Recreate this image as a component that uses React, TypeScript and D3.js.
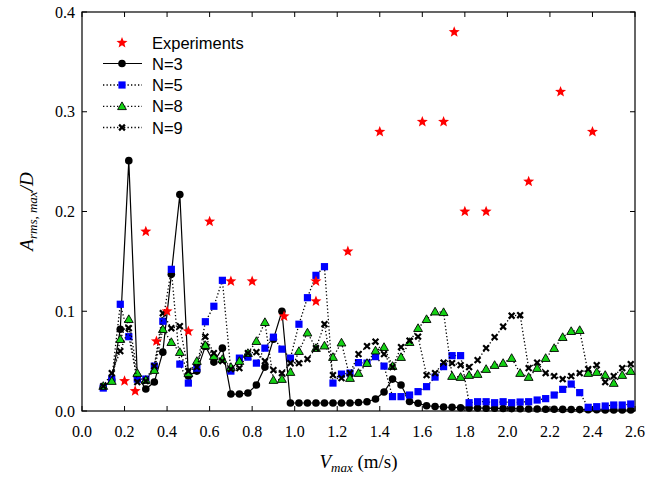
import React from "react";
import * as d3 from "d3";

const V = [0.10,0.14,0.18,0.22,0.26,0.30,0.34,0.38,0.42,0.46,0.50,0.54,0.58,0.62,0.66,0.70,0.74,0.78,0.82,0.86,0.90,0.94,0.98,1.02,1.06,1.10,1.14,1.18,1.22,1.26,1.30,1.34,1.38,1.42,1.46,1.50,1.54,1.58,1.62,1.66,1.70,1.74,1.78,1.82,1.86,1.90,1.94,1.98,2.02,2.06,2.10,2.14,2.18,2.22,2.26,2.30,2.34,2.38,2.42,2.46,2.50,2.54,2.58];

const N3 = [0.024,0.031,0.082,0.251,0.035,0.022,0.029,0.059,0.137,0.217,
  0.035,0.040,0.065,0.049,0.063,0.017,0.017,0.018,0.026,0.044,
  0.072,0.100,0.008,0.008,0.008,0.008,0.008,0.008,0.008,0.008,
  0.0085,0.0093,0.012,0.019,0.032,0.026,0.0095,0.0077,0.0053,0.0045,
  0.004,0.0037,0.0033,0.003,0.003,0.0028,0.0027,0.0025,0.0024,0.0022,
  0.002,0.002,0.0018,0.0017,0.0016,0.0015,0.0014,0.0013,0.0012,0.0011,
  0.001,0.001,0.001];

const N5 = [0.023,0.032,0.107,0.0745,0.032,0.032,0.045,0.090,0.142,0.047,
  0.028,0.043,0.0895,0.105,0.131,0.040,0.053,0.054,0.048,0.063,
  0.074,0.062,0.053,0.087,0.1136,0.136,0.1447,0.028,0.037,0.038,
  0.0485,0.048,0.0545,0.045,0.0144,0.0144,0.016,0.0194,0.0244,0.034,
  0.0445,0.0555,0.0555,0.0083,0.0093,0.0093,0.0083,0.0093,0.0083,0.009,
  0.0093,0.011,0.0124,0.016,0.0217,0.027,0.0184,0.0037,0.0043,0.005,
  0.006,0.006,0.007];

const N8 = [0.025,0.030,0.072,0.092,0.038,0.031,0.041,0.082,0.069,0.059,
  0.038,0.050,0.066,0.055,0.052,0.044,0.050,0.058,0.070,0.089,
  0.031,0.032,0.039,0.060,0.0785,0.063,0.0655,0.054,0.0685,0.033,
  0.038,0.048,0.0605,0.064,0.045,0.054,0.069,0.083,0.092,0.0996,
  0.099,0.035,0.034,0.036,0.037,0.042,0.046,0.048,0.053,0.038,
  0.034,0.043,0.053,0.063,0.074,0.080,0.081,0.038,0.039,0.036,
  0.028,0.036,0.040];

const N9 = [0.025,0.038,0.060,0.083,0.029,0.030,0.045,0.098,0.083,0.085,
  0.040,0.044,0.0745,0.058,0.050,0.042,0.043,0.058,0.059,0.050,
  0.041,0.038,0.048,0.048,0.052,0.063,0.087,0.036,0.033,0.038,
  0.057,0.065,0.0695,0.057,0.044,0.064,0.0705,0.0745,0.036,0.038,
  0.0485,0.048,0.046,0.044,0.051,0.063,0.074,0.0845,0.0955,0.096,
  0.043,0.0485,0.038,0.035,0.032,0.035,0.038,0.042,0.046,0.029,
  0.035,0.043,0.047];

const EXP_V = [0.2,0.25,0.3,0.35,0.4,0.5,0.6,0.7,0.8,0.95,1.1,1.1,1.25,1.4,1.6,1.7,1.75,1.8,1.9,2.1,2.25,2.4];
const EXP_A = [0.03,0.02,0.18,0.07,0.10,0.08,0.19,0.13,0.13,0.095,0.13,0.11,0.16,0.28,0.29,0.29,0.38,0.20,0.20,0.23,0.32,0.28];

const X_TICKS = [0,0.2,0.4,0.6,0.8,1.0,1.2,1.4,1.6,1.8,2.0,2.2,2.4,2.6];
const Y_TICKS = [0,0.1,0.2,0.3,0.4];
const LEGEND = ["Experiments","N=3","N=5","N=8","N=9"];

const W = 661, H = 477;
const L = 82, R = 635, T = 12, B = 411;

const x = d3.scaleLinear().domain([0, 2.6]).range([L, R]);
const y = d3.scaleLinear().domain([0, 0.4]).range([B, T]);

const GREEN = "#14d214";
const BLUE = "#0000ff";
const RED = "#ff0000";

const SERIF = { fontFamily: '"Liberation Serif", "Times New Roman", Times, serif' };
const SANS = { fontFamily: '"Liberation Sans", Arial, Helvetica, sans-serif' };

function starPath(cx: number, cy: number, ro: number, ri: number) {
  const pts: string[] = [];
  for (let i = 0; i < 10; i++) {
    const r = i % 2 === 0 ? ro : ri;
    const a = -Math.PI / 2 + (i * Math.PI) / 5;
    pts.push(`${(cx + r * Math.cos(a)).toFixed(2)},${(cy + r * Math.sin(a)).toFixed(2)}`);
  }
  return "M" + pts.join("L") + "Z";
}

type Kind = "circle" | "square" | "tri" | "x" | "star";

function Marker({ kind, cx, cy }: { kind: Kind; cx: number; cy: number }) {
  if (kind === "circle") return <circle cx={cx} cy={cy} r={3.8} fill="#000" />;
  if (kind === "square") return <rect x={cx - 3.6} y={cy - 3.6} width={7.2} height={7.2} fill={BLUE} />;
  if (kind === "tri") {
    const s = 4.4;
    return <path d={`M${cx},${cy - s}L${cx + s},${cy + s * 0.75}L${cx - s},${cy + s * 0.75}Z`} fill={GREEN} stroke="#000" strokeWidth={0.9} />;
  }
  if (kind === "x") {
    const s = 2.9;
    return (
      <path d={`M${cx - s},${cy - s}L${cx + s},${cy + s}M${cx - s},${cy + s}L${cx + s},${cy - s}`} stroke="#000" strokeWidth={2.2} />
    );
  }
  return <path d={starPath(cx, cy, 5.8, 2.5)} fill={RED} />;
}

const series: { vals: number[]; kind: Kind; dashed: boolean }[] = [
  { vals: N3, kind: "circle", dashed: false },
  { vals: N5, kind: "square", dashed: true },
  { vals: N8, kind: "tri", dashed: true },
  { vals: N9, kind: "x", dashed: true },
];

export default function App() {
  const line = d3.line<number>().x((_, i) => x(V[i])).y((d) => y(d));
  const legendY = [42.7, 63.5, 85, 106.3, 127.5];
  const kinds: Kind[] = ["star", "circle", "square", "tri", "x"];
  return (
    <svg width={W} height={H} style={{ position: "absolute", left: 0, top: 0, background: "#fff" }}>
      <rect x={0} y={0} width={W} height={H} fill="#fff" />
      <rect x={L} y={T} width={R - L} height={B - T} fill="none" stroke="#000" strokeWidth={1.2} />
      {X_TICKS.map((t) => (
        <g key={"xt" + t}>
          <line x1={x(t)} x2={x(t)} y1={B} y2={B - 5} stroke="#000" strokeWidth={1} />
          <line x1={x(t)} x2={x(t)} y1={T} y2={T + 5} stroke="#000" strokeWidth={1} />
          <text x={x(t)} y={B + 26} textAnchor="middle" style={SERIF} fontSize={16}>
            {t.toFixed(1)}
          </text>
        </g>
      ))}
      {Y_TICKS.map((t) => (
        <g key={"yt" + t}>
          <line x1={L} x2={L + 5} y1={y(t)} y2={y(t)} stroke="#000" strokeWidth={1} />
          <line x1={R} x2={R - 5} y1={y(t)} y2={y(t)} stroke="#000" strokeWidth={1} />
          <text x={L - 7} y={y(t) + 5.5} textAnchor="end" style={SERIF} fontSize={16}>
            {t.toFixed(1)}
          </text>
        </g>
      ))}
      {series.map((s, si) => (
        <g key={"s" + si}>
          <path
            d={line(s.vals) || ""}
            fill="none"
            stroke="#000"
            strokeWidth={s.dashed ? 1.3 : 1.2}
            strokeDasharray={s.dashed ? "1.3,2.2" : undefined}
          />
          {s.vals.map((v, i) => (
            <Marker key={i} kind={s.kind} cx={x(V[i])} cy={y(v)} />
          ))}
        </g>
      ))}
      {EXP_V.map((v, i) => (
        <Marker key={"e" + i} kind="star" cx={x(v)} cy={y(EXP_A[i])} />
      ))}
      {LEGEND.map((name, i) => (
        <g key={"lg" + i}>
          {i > 0 && (
            <line
              x1={103}
              x2={142}
              y1={legendY[i]}
              y2={legendY[i]}
              stroke="#000"
              strokeWidth={i === 1 ? 1.2 : 1.3}
              strokeDasharray={i === 1 ? undefined : "1.3,2.2"}
            />
          )}
          <Marker kind={kinds[i]} cx={122} cy={legendY[i]} />
          <text x={152} y={legendY[i] + 6} style={SANS} fontSize={16.5}>
            {name}
          </text>
        </g>
      ))}
      <text x={(L + R) / 2} y={468} textAnchor="middle" style={SERIF} fontSize={19}>
        <tspan fontStyle="italic">V</tspan>
        <tspan fontStyle="italic" fontSize={13} dy={4}>max</tspan>
        <tspan dy={-4}> (m/s)</tspan>
      </text>
      <g transform={`translate(33, ${(T + B) / 2}) rotate(-90)`}>
        <text x={0} y={0} textAnchor="middle" style={SERIF} fontSize={19}>
          <tspan fontStyle="italic">A</tspan>
          <tspan fontStyle="italic" fontSize={13} dy={4}>rms, max</tspan>
          <tspan fontStyle="italic" dy={-4}>/D</tspan>
        </text>
      </g>
    </svg>
  );
}
